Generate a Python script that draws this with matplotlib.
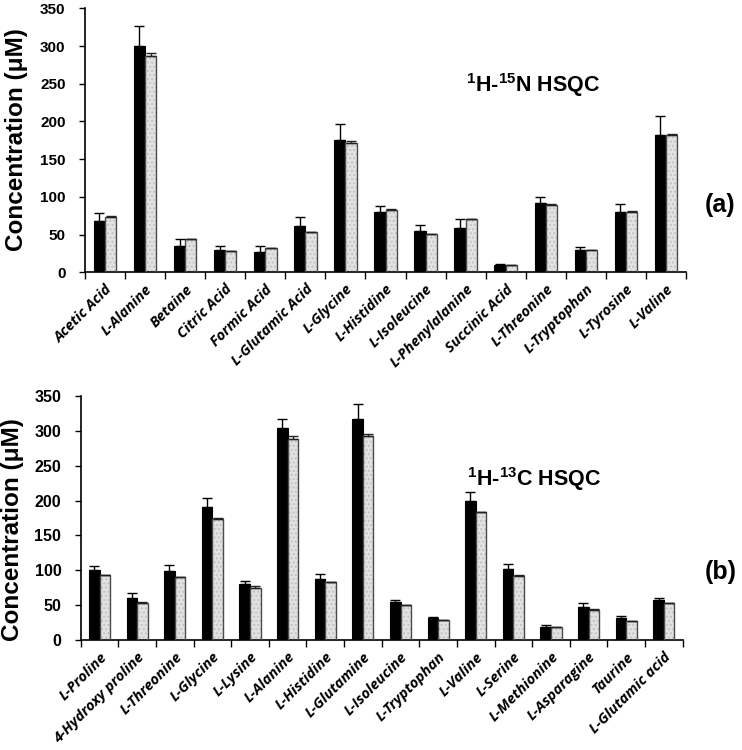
import numpy as np
import matplotlib
matplotlib.use("Agg")
import matplotlib.pyplot as plt
from matplotlib.ticker import FixedLocator

plt.rcParams['mathtext.fontset'] = 'custom'
plt.rcParams['mathtext.rm'] = 'Liberation Sans:bold'
plt.rcParams['mathtext.bf'] = 'Liberation Sans:bold'
plt.rcParams['mathtext.it'] = 'Liberation Sans:bold'

# ---------------- data ----------------
top_categories = ["Acetic Acid", "L-Alanine", "Betaine", "Citric Acid", "Formic Acid",
                  "L-Glutamic Acid", "L-Glycine", "L-Histidine", "L-Isoleucine",
                  "L-Phenylalanine", "Succinic Acid", "L-Threonine", "L-Tryptophan",
                  "L-Tyrosine", "L-Valine"]
top_black = [68, 300, 35, 30, 27, 62, 176, 80, 55, 59, 10, 92, 30, 80, 182]
top_black_err = [10, 27, 9.5, 5, 8.5, 11, 21, 8, 7.5, 12, 1, 8, 3.5, 11, 25]
top_gray = [73.5, 287, 44.5, 28, 32, 53.3, 171.5, 83, 50.5, 71, 9.3, 89.7, 29, 80.5, 182.5]
top_gray_err = [0.5, 4, 0.3, 0.3, 0.3, 0.3, 2.5, 0.3, 0.3, 0.3, 0.3, 1, 0.3, 0.3, 0.5]

bot_categories = ["L-Proline", "4-Hydroxy proline", "L-Threonine", "L-Glycine", "L-Lysine",
                  "L-Alanine", "L-Histidine", "L-Glutamine", "L-Isoleucine", "L-Tryptophan",
                  "L-Valine", "L-Serine", "L-Methionine", "L-Asparagine", "Taurine",
                  "L-Glutamic acid"]
bot_black = [100, 60, 99, 191, 80, 304, 88, 317, 54, 31, 200, 102, 19, 48, 31, 57]
bot_black_err = [6, 7, 9, 13, 4.5, 13, 7, 21, 3.5, 1.5, 12, 7, 2.8, 4.5, 4, 3.5]
bot_gray = [93, 53.6, 90, 173, 75, 288, 83, 293, 50.5, 28.5, 184, 92.5, 18.5, 43.5, 27.5, 53]
bot_gray_err = [0.5, 0.3, 1, 2.5, 2, 4.5, 0.5, 2.5, 0.3, 0.3, 0.3, 0.3, 0.3, 0.3, 0.3, 0.3]

yticks = [0, 50, 100, 150, 200, 250, 300, 350]

XTICK_FONT = "Open Sans"
YTICK_FONT = "Liberation Sans"
LABEL_FONT = "Liberation Sans"


def draw_panel(ax, cats, black, black_err, gray, gray_err, ytick_size, xtick_size):
    n = len(cats)
    x = np.arange(n)
    w = 0.28
    off = 0.14
    ax.bar(x - off, black, width=w, color="black", edgecolor="black", linewidth=0.8, zorder=2)
    ax.bar(x + off, gray, width=w, color="#e2e2e2", edgecolor="none", linewidth=0, zorder=2)
    ax.bar(x + off, gray, width=w, color="none", edgecolor="#c2c2c2", hatch="....",
           linewidth=0, zorder=2)
    ax.bar(x + off, gray, width=w, color="none", edgecolor="#4a4a4a", linewidth=1.0, zorder=3)
    z = np.zeros(n)
    ax.errorbar(x - off, black, yerr=[z, black_err], fmt="none", ecolor="black",
                elinewidth=1.0, capsize=3.3, capthick=1.0, zorder=4)
    ax.errorbar(x + off, gray, yerr=[z, gray_err], fmt="none", ecolor="#222222",
                elinewidth=1.0, capsize=3.3, capthick=1.0, zorder=4)
    ax.set_xlim(-0.5, n - 0.5)
    ax.set_ylim(0, 350)
    ax.set_yticks(yticks)
    ax.set_yticklabels([str(t) for t in yticks], fontfamily=YTICK_FONT,
                       fontweight="bold", fontsize=ytick_size)
    ax.set_xticks(x)
    ax.set_xticklabels(cats, rotation=45, ha="right", va="top", rotation_mode="anchor",
                       fontfamily=XTICK_FONT, fontweight="bold", fontstyle="italic",
                       fontsize=xtick_size)
    ax.tick_params(axis="x", which="major", length=0, pad=7)
    ax.xaxis.set_minor_locator(FixedLocator(np.arange(n + 1) - 0.5))
    ax.tick_params(axis="x", which="minor", length=5, width=1.0, direction="out")
    ax.tick_params(axis="y", length=4, width=1.0, direction="out", pad=10)
    for s in ["top", "right"]:
        ax.spines[s].set_visible(False)
    for s in ["left", "bottom"]:
        ax.spines[s].set_linewidth(1.2)
        ax.spines[s].set_color("black")


fig = plt.figure(figsize=(7.42, 7.5), dpi=100)
ax1 = fig.add_axes([85 / 742, 1 - 272.3 / 750, 601 / 742, 264 / 750])
ax2 = fig.add_axes([80.7 / 742, 1 - 640 / 750, 602 / 742, 244 / 750])

draw_panel(ax1, top_categories, top_black, top_black_err, top_gray, top_gray_err, 11, 10.5)
draw_panel(ax2, bot_categories, bot_black, bot_black_err, bot_gray, bot_gray_err, 11.5, 10.5)

fig.text(17 / 742, 1 - 140 / 750, "Concentration (\u03bcM)", rotation=90, ha="center",
         va="center", fontfamily=LABEL_FONT, fontweight="bold", fontsize=17.5)
fig.text(13 / 742, 1 - 530 / 750, "Concentration (\u03bcM)", rotation=90, ha="center",
         va="center", fontfamily=LABEL_FONT, fontweight="bold", fontsize=17.5)

fig.text(533 / 742, 1 - 92 / 750, r"$^{1}$H-$^{15}$N HSQC", ha="center", va="baseline",
         fontfamily=LABEL_FONT, fontweight="bold", fontsize=15.5)
fig.text(534 / 742, 1 - 486 / 750, r"$^{1}$H-$^{13}$C HSQC", ha="center", va="baseline",
         fontfamily=LABEL_FONT, fontweight="bold", fontsize=15.5)

fig.text(720 / 742, 1 - 205 / 750, "(a)", ha="center", va="center",
         fontfamily=LABEL_FONT, fontweight="bold", fontsize=18)
fig.text(721 / 742, 1 - 572 / 750, "(b)", ha="center", va="center",
         fontfamily=LABEL_FONT, fontweight="bold", fontsize=18)

fig.savefig("out.png", dpi=100)
